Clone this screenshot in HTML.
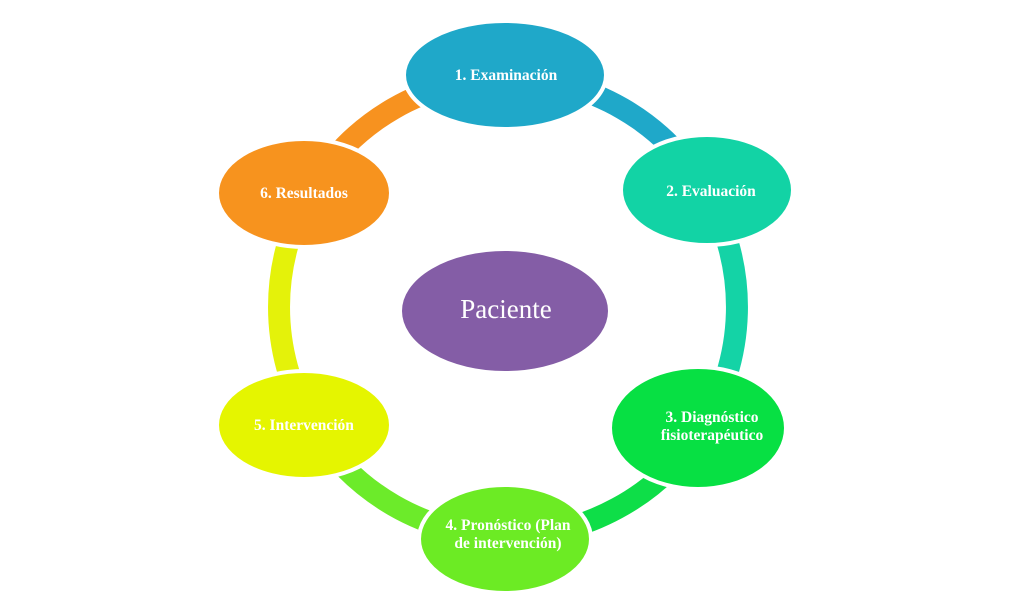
<!DOCTYPE html>
<html><head><meta charset="utf-8"><style>
html,body{margin:0;padding:0;background:#fff;width:1024px;height:613px;overflow:hidden}
svg{display:block}
text{font-family:"Liberation Serif",serif;fill:#fff;font-weight:bold;text-anchor:middle}
</style></head><body>
<svg width="1024" height="613" viewBox="0 0 1024 613">
<g fill="none" stroke-width="22" transform="translate(0,0)">
<path d="M508 78 A229 229 0 0 1 706.3 192.5" stroke="#1FA8C9"/>
<path d="M706.3 192.5 A229 229 0 0 1 700 431.7" stroke="#14D3A6"/>
<path d="M700 431.7 A229 229 0 0 1 508 536" stroke="#0EDE48"/>
<path d="M508 536 A229 229 0 0 1 309.7 421.5" stroke="#6CEB2A"/>
<path d="M309.7 421.5 A229 229 0 0 1 309.7 192.5" stroke="#E4F20A"/>
<path d="M309.7 192.5 A229 229 0 0 1 508 78" stroke="#F7921F"/>
</g>
<g stroke="#fff" stroke-width="4">
<ellipse cx="505" cy="75" rx="101" ry="54" fill="#1FA8C9"/>
<ellipse cx="707" cy="190" rx="86" ry="55" fill="#12D3A5"/>
<ellipse cx="698" cy="428" rx="88" ry="61" fill="#07E043"/>
<ellipse cx="505" cy="539" rx="86" ry="54" fill="#6CEB24"/>
<ellipse cx="304" cy="425" rx="87" ry="54" fill="#E5F500"/>
<ellipse cx="304" cy="193" rx="87" ry="54" fill="#F7931E"/>
<ellipse cx="505" cy="311" rx="105" ry="62" fill="#845DA6"/>
</g>
<g font-size="15.5">
<text x="506" y="80">1. Examinación</text>
<text x="711" y="196">2. Evaluación</text>
<text x="712" y="422">3. Diagnóstico</text>
<text x="712" y="440">fisioterapéutico</text>
<text x="508" y="530">4. Pronóstico (Plan</text>
<text x="508" y="548">de intervención)</text>
<text x="304" y="430">5. Intervención</text>
<text x="304" y="198">6. Resultados</text>
</g>
<text x="506" y="318" font-size="27" style="font-weight:normal">Paciente</text>
</svg>
</body></html>
